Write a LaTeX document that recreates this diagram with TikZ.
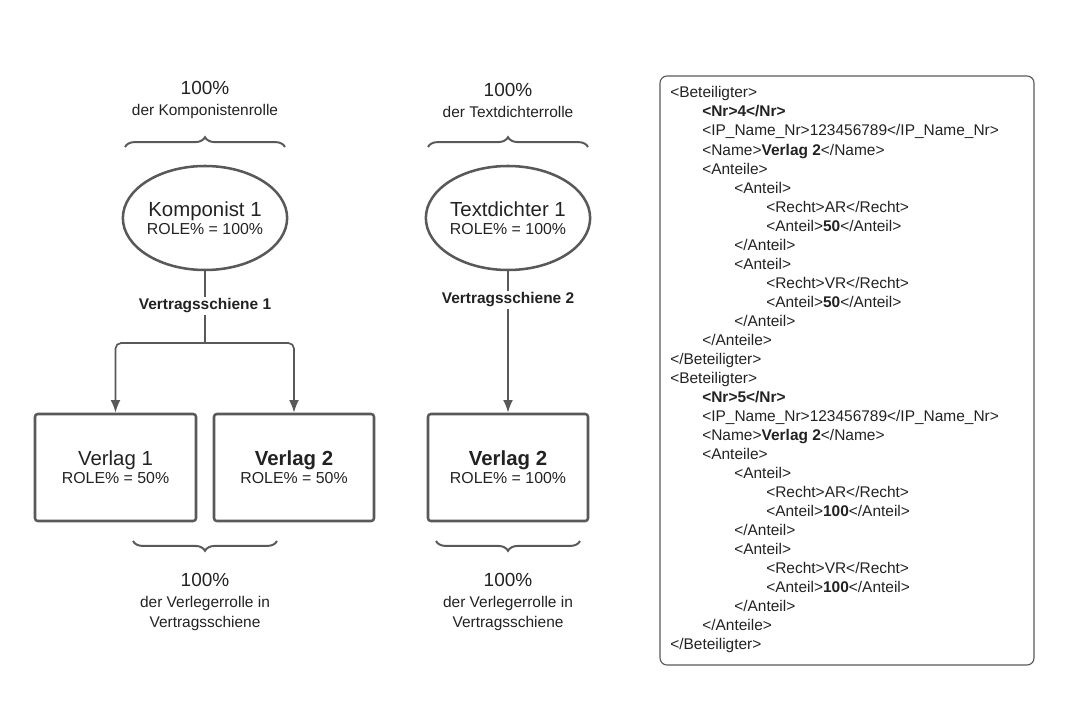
\documentclass[tikz,border=0pt]{standalone}
\usepackage{fontspec}
\setmainfont{Liberation Sans}
\usetikzlibrary{shapes,arrows,arrows.meta,positioning,decorations.pathreplacing}
\definecolor{linegray}{HTML}{595959}
\definecolor{textgray}{HTML}{222222}

\begin{document}
\begin{tikzpicture}[x=0.025cm, y=-0.025cm,
    role/.style={ellipse, draw=linegray, line width=1.8pt, align=center, text=textgray, inner sep=0pt},
    box/.style={draw=linegray, line width=1.8pt, rounded corners=2pt, align=center, text=textgray, inner sep=0pt},
    arrow/.style={-{Latex[length=9pt,width=7pt]}, line width=1.2pt, linegray},
    brace/.style={decorate, decoration={brace, amplitude=7pt}, line width=1.4pt, linegray},
    lbl/.style={font=\bfseries\fontsize{11}{12}\selectfont, text=textgray, fill=white, inner sep=1pt},
    note/.style={align=center, text=textgray, font=\fontsize{11}{14}\selectfont},
    xml/.style={anchor=base west, text=textgray, font=\fontsize{11}{12}\selectfont, inner sep=0pt}
]
    \useasboundingbox (0,0) rectangle (1070,702);

    % Top braces and notes
    \draw[brace] (125,147) -- (285,147);
    \draw[brace] (428,147) -- (588,147);
    \node[note] (p1) at (205,100) {{\fontsize{13.5}{15}\selectfont 100\%}\\[1pt]der Komponistenrolle};
    \node[note] (p2) at (508,100) {{\fontsize{13.5}{15}\selectfont 100\%}\\[1pt]der Textdichterrolle};

    % Roles
    \node[role, minimum width=164*0.025cm, minimum height=104*0.025cm] (k1) at (205,218)
        {{\fontsize{14.5}{17}\selectfont Komponist 1}\\[1pt]{\fontsize{11.3}{13}\selectfont ROLE\% = 100\%}};
    \node[role, minimum width=164*0.025cm, minimum height=104*0.025cm] (t1) at (508,218)
        {{\fontsize{14.5}{17}\selectfont Textdichter 1}\\[1pt]{\fontsize{11.3}{13}\selectfont ROLE\% = 100\%}};

    % Publishers
    \node[box, minimum width=161*0.025cm, minimum height=107*0.025cm] (b1) at (115.5,467.5)
        {{\fontsize{14.5}{17}\selectfont Verlag 1}\\[1pt]{\fontsize{11.3}{13}\selectfont ROLE\% = 50\%}};
    \node[box, minimum width=160*0.025cm, minimum height=107*0.025cm] (b2) at (294,467.5)
        {{\fontsize{14.5}{17}\selectfont\bfseries Verlag 2}\\[1pt]{\fontsize{11.3}{13}\selectfont ROLE\% = 50\%}};
    \node[box, minimum width=160*0.025cm, minimum height=107*0.025cm] (b3) at (508,467.5)
        {{\fontsize{14.5}{17}\selectfont\bfseries Verlag 2}\\[1pt]{\fontsize{11.3}{13}\selectfont ROLE\% = 100\%}};

    % Contract rails
    \node[lbl] (v1) at (205,306) {Vertragsschiene 1};
    \node[lbl] (v2) at (508,300) {Vertragsschiene 2};
    \coordinate (f1) at (205,343);
    \draw[line width=1.2pt, linegray] (k1) -- (v1);
    \draw[line width=1.2pt, linegray] (v1) -- (f1);
    \draw[arrow, rounded corners=4pt] (f1) -| (b1.north);
    \draw[arrow, rounded corners=4pt] (f1) -| (b2.north);
    \draw[line width=1.2pt, linegray] (t1) -- (v2);
    \draw[arrow] (v2) -- (b3);

    % Bottom braces and notes
    \draw[brace] (277,541) -- (133,541);
    \draw[brace] (580,541) -- (436,541);
    \node[note] (q1) at (205,602) {{\fontsize{13.5}{15}\selectfont 100\%}\\[1pt]der Verlegerrolle in\\Vertragsschiene};
    \node[note] (q2) at (508,602) {{\fontsize{13.5}{15}\selectfont 100\%}\\[1pt]der Verlegerrolle in\\Vertragsschiene};

    % XML panel
    \draw[linegray, line width=0.8pt, rounded corners=5pt] (660,76) rectangle (1034,665);
    \foreach \i/\ind/\t in {
        0/0/{<Beteiligter>},
        1/1/{\textbf{<Nr>4</Nr>}},
        2/1/{<IP\_Name\_Nr>123456789</IP\_Name\_Nr>},
        3/1/{<Name>\textbf{Verlag 2}</Name>},
        4/1/{<Anteile>},
        5/2/{<Anteil>},
        6/3/{<Recht>AR</Recht>},
        7/3/{<Anteil>\textbf{50}</Anteil>},
        8/2/{</Anteil>},
        9/2/{<Anteil>},
        10/3/{<Recht>VR</Recht>},
        11/3/{<Anteil>\textbf{50}</Anteil>},
        12/2/{</Anteil>},
        13/1/{</Anteile>},
        14/0/{</Beteiligter>},
        15/0/{<Beteiligter>},
        16/1/{\textbf{<Nr>5</Nr>}},
        17/1/{<IP\_Name\_Nr>123456789</IP\_Name\_Nr>},
        18/1/{<Name>\textbf{Verlag 2}</Name>},
        19/1/{<Anteile>},
        20/2/{<Anteil>},
        21/3/{<Recht>AR</Recht>},
        22/3/{<Anteil>\textbf{100}</Anteil>},
        23/2/{</Anteil>},
        24/2/{<Anteil>},
        25/3/{<Recht>VR</Recht>},
        26/3/{<Anteil>\textbf{100}</Anteil>},
        27/2/{</Anteil>},
        28/1/{</Anteile>},
        29/0/{</Beteiligter>}}
        \node[xml] (x\i) at ({670+32*\ind},{98+19*\i}) {\t};
\end{tikzpicture}
\end{document}
